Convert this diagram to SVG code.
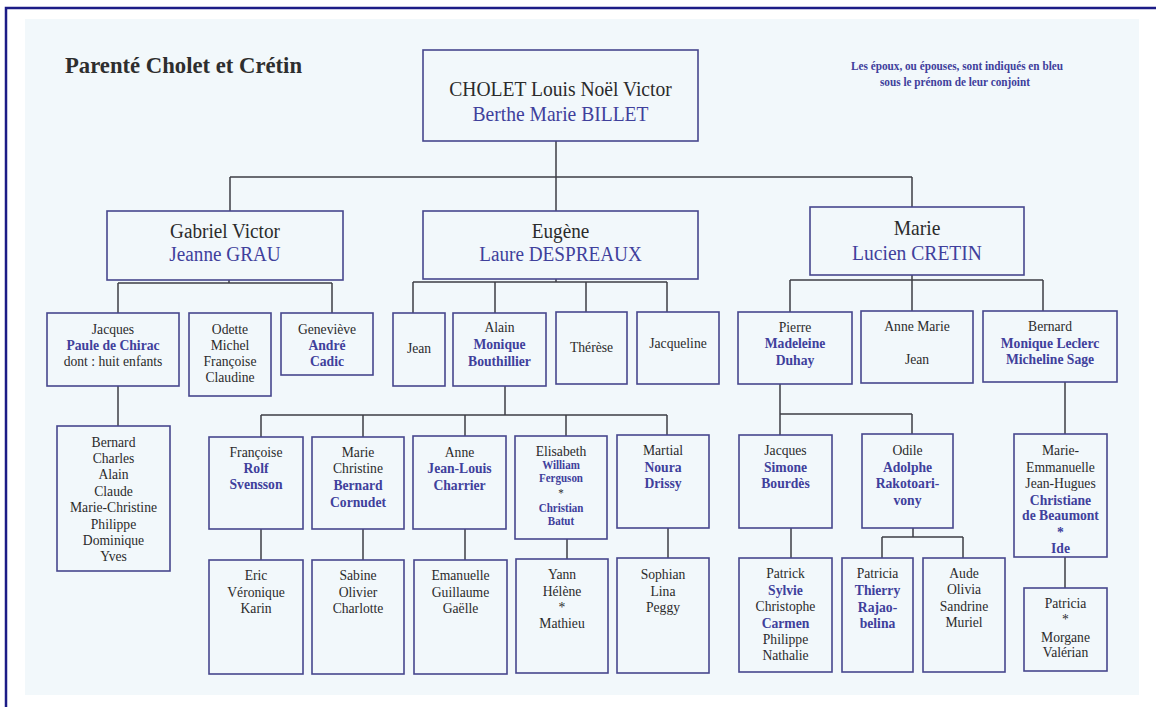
<svg xmlns="http://www.w3.org/2000/svg" width="1156" height="707" viewBox="0 0 1156 707">
<style>
.bg{fill:#ffffff}
.pale{fill:#f2f8fb}
.frame{fill:none;stroke:#1c1c86;stroke-width:2.5}
.box{fill:none;stroke:#47478e;stroke-width:1.6}
.ln{fill:none;stroke:#3e3e46;stroke-width:1.5}
.tx{font-family:"Liberation Serif","Times New Roman",serif;font-size:15.5px;fill:#2b2b2b;text-anchor:middle}
.L{font-size:22px}
.M{font-size:20px}
.b{font-weight:bold;fill:#40409c}
.s{fill:#40409c}
.xs{font-size:12.5px}
.title{font-family:"Liberation Serif","Times New Roman",serif;font-size:23px;font-weight:bold;fill:#2e2e2e}
.note{font-family:"Liberation Serif","Times New Roman",serif;font-size:12px;font-weight:bold;fill:#40409c;text-anchor:middle}
</style>
<rect class="bg" x="0" y="0" width="1156" height="707"/>
<rect class="pale" x="25" y="19" width="1114" height="676"/>
<path class="frame" d="M6,707 V8 H1156"/>
<text class="title" x="65" y="73" textLength="237" lengthAdjust="spacingAndGlyphs">Parenté Cholet et Crétin</text>
<text class="note" x="957" y="70" textLength="212" lengthAdjust="spacingAndGlyphs">Les époux, ou épouses, sont indiqués en bleu</text>
<text class="note" x="955" y="86" textLength="150" lengthAdjust="spacingAndGlyphs">sous le prénom de leur conjoint</text>

<g id="connectors">
<path class="ln" d="M556,141 V177 M230,177 H912 M230,177 V211 M556,177 V211 M912,177 V207"/>
<path class="ln" d="M229,280 V283 M118,283 H332 M118,283 V313 M332,283 V313 M118,386 V426"/>
<path class="ln" d="M556,279 V282 M413,282 H667 M413,282 V313 M495,282 V313 M586,282 V312 M667,282 V312"/>
<path class="ln" d="M505,386 V415 M261,415 H667 M261,415 V437 M363,415 V437 M465,415 V436 M566,415 V436 M667,415 V435"/>
<path class="ln" d="M261,529 V560 M363,529 V560 M465,529 V560 M567,539 V559 M668,528 V558"/>
<path class="ln" d="M912,275 V280 M790,280 H1043 M790,280 V312 M912,280 V311 M1043,280 V311"/>
<path class="ln" d="M780,384 V435 M780,414 H912 M912,414 V434"/>
<path class="ln" d="M791,528 V558 M913,528 V537 M882,537 H963 M882,537 V558 M963,537 V558"/>
<path class="ln" d="M1065,382 V434 M1065,557 V588"/>
</g>

<g id="n-root"><rect class="box" x="423" y="50" width="275" height="91"/>
<g class="tx L" transform="translate(560.5 0) scale(0.89 1)"><text y="96">CHOLET Louis Noël Victor</text><text class="s" y="121">Berthe Marie BILLET</text></g></g>

<g id="n-gabriel"><rect class="box" x="107" y="211" width="236" height="69"/>
<g class="tx M" transform="translate(225 0) scale(0.96 1)"><text y="238">Gabriel Victor</text><text class="s" y="261">Jeanne GRAU</text></g></g>

<g id="n-eugene"><rect class="box" x="423" y="211" width="275" height="68"/>
<g class="tx M" transform="translate(560.5 0) scale(0.96 1)"><text y="238">Eugène</text><text class="s" y="261">Laure DESPREAUX</text></g></g>

<g id="n-marie"><rect class="box" x="810" y="207" width="214" height="68"/>
<g class="tx L" transform="translate(917 0) scale(0.89 1)"><text y="235">Marie</text><text class="s" y="260">Lucien CRETIN</text></g></g>

<g id="n-jacques"><rect class="box" x="47" y="313" width="132" height="73"/>
<g class="tx" transform="translate(113 0) scale(0.88 1)"><text y="334">Jacques</text><text class="b" y="350">Paule de Chirac</text><text y="366">dont : huit enfants</text></g></g>

<g id="n-odette"><rect class="box" x="189" y="313" width="82" height="83"/>
<g class="tx" transform="translate(230 0) scale(0.88 1)"><text y="334">Odette</text><text y="350">Michel</text><text y="366">Françoise</text><text y="382">Claudine</text></g></g>

<g id="n-genevieve"><rect class="box" x="281" y="313" width="92" height="62"/>
<g class="tx" transform="translate(327 0) scale(0.88 1)"><text y="334">Geneviève</text><text class="b" y="350">André</text><text class="b" y="366">Cadic</text></g></g>

<g id="n-jean"><rect class="box" x="393" y="313" width="52" height="73"/>
<g class="tx" transform="translate(419 0) scale(0.88 1)"><text y="353">Jean</text></g></g>

<g id="n-alain"><rect class="box" x="453" y="313" width="93" height="73"/>
<g class="tx" transform="translate(499.5 0) scale(0.88 1)"><text y="332">Alain</text><text class="b" y="349">Monique</text><text class="b" y="366">Bouthillier</text></g></g>

<g id="n-therese"><rect class="box" x="556" y="312" width="71" height="72"/>
<g class="tx" transform="translate(591.5 0) scale(0.88 1)"><text y="352">Thérèse</text></g></g>

<g id="n-jacqueline"><rect class="box" x="637" y="312" width="82" height="72"/>
<g class="tx" transform="translate(678 0) scale(0.88 1)"><text y="348">Jacqueline</text></g></g>

<g id="n-pierre"><rect class="box" x="738" y="312" width="114" height="72"/>
<g class="tx" transform="translate(795 0) scale(0.88 1)"><text y="332">Pierre</text><text class="b" y="348">Madeleine</text><text class="b" y="365">Duhay</text></g></g>

<g id="n-annemarie"><rect class="box" x="861" y="311" width="112" height="72"/>
<g class="tx" transform="translate(917 0) scale(0.88 1)"><text y="331">Anne Marie</text><text y="364">Jean</text></g></g>

<g id="n-bernard"><rect class="box" x="983" y="311" width="134" height="71"/>
<g class="tx" transform="translate(1050 0) scale(0.88 1)"><text y="331">Bernard</text><text class="b" y="348">Monique Leclerc</text><text class="b" y="364">Micheline Sage</text></g></g>

<g id="n-jacques-enfants"><rect class="box" x="57" y="426" width="113" height="145"/>
<g class="tx" transform="translate(113.5 0) scale(0.88 1)"><text y="447">Bernard</text><text y="463">Charles</text><text y="479">Alain</text><text y="496">Claude</text><text y="512">Marie-Christine</text><text y="529">Philippe</text><text y="545">Dominique</text><text y="561">Yves</text></g></g>

<g id="n-francoise"><rect class="box" x="209" y="437" width="94" height="92"/>
<g class="tx" transform="translate(256 0) scale(0.88 1)"><text y="457">Françoise</text><text class="b" y="473">Rolf</text><text class="b" y="489">Svensson</text></g></g>

<g id="n-mariechristine"><rect class="box" x="312" y="437" width="92" height="92"/>
<g class="tx" transform="translate(358 0) scale(0.88 1)"><text y="457">Marie</text><text y="473">Christine</text><text class="b" y="490">Bernard</text><text class="b" y="507">Cornudet</text></g></g>

<g id="n-anne"><rect class="box" x="413" y="436" width="93" height="93"/>
<g class="tx" transform="translate(459.5 0) scale(0.88 1)"><text y="457">Anne</text><text class="b" y="473">Jean-Louis</text><text class="b" y="490">Charrier</text></g></g>

<g id="n-elisabeth"><rect class="box" x="515" y="436" width="92" height="103"/>
<g class="tx" transform="translate(561 0) scale(0.88 1)"><text y="456">Elisabeth</text><text class="b xs" y="469">William</text><text class="b xs" y="482">Ferguson</text><text class="xs" y="497">*</text><text class="b xs" y="512">Christian</text><text class="b xs" y="525">Batut</text></g></g>

<g id="n-martial"><rect class="box" x="617" y="435" width="92" height="93"/>
<g class="tx" transform="translate(663 0) scale(0.88 1)"><text y="455">Martial</text><text class="b" y="472">Noura</text><text class="b" y="488">Drissy</text></g></g>

<g id="n-jacques2"><rect class="box" x="739" y="435" width="93" height="93"/>
<g class="tx" transform="translate(785.5 0) scale(0.88 1)"><text y="455">Jacques</text><text class="b" y="472">Simone</text><text class="b" y="488">Bourdès</text></g></g>

<g id="n-odile"><rect class="box" x="862" y="434" width="91" height="94"/>
<g class="tx" transform="translate(907.5 0) scale(0.88 1)"><text y="455">Odile</text><text class="b" y="472">Adolphe</text><text class="b" y="488">Rakotoari-</text><text class="b" y="505">vony</text></g></g>

<g id="n-marieemmanuelle"><rect class="box" x="1014" y="434" width="93" height="123"/>
<g class="tx" transform="translate(1060.5 0) scale(0.88 1)"><text y="455">Marie-</text><text y="472">Emmanuelle</text><text y="488">Jean-Hugues</text><text class="b" y="505">Christiane</text><text class="b" y="520">de Beaumont</text><text class="b" y="537">*</text><text class="b" y="553">Ide</text></g></g>

<g id="n-eric"><rect class="box" x="209" y="560" width="94" height="114"/>
<g class="tx" transform="translate(256 0) scale(0.88 1)"><text y="580">Eric</text><text y="597">Véronique</text><text y="613">Karin</text></g></g>

<g id="n-sabine"><rect class="box" x="312" y="560" width="92" height="114"/>
<g class="tx" transform="translate(358 0) scale(0.88 1)"><text y="580">Sabine</text><text y="597">Olivier</text><text y="613">Charlotte</text></g></g>

<g id="n-emanuelle"><rect class="box" x="414" y="560" width="93" height="114"/>
<g class="tx" transform="translate(460.5 0) scale(0.88 1)"><text y="580">Emanuelle</text><text y="597">Guillaume</text><text y="613">Gaëlle</text></g></g>

<g id="n-yann"><rect class="box" x="516" y="559" width="92" height="114"/>
<g class="tx" transform="translate(562 0) scale(0.88 1)"><text y="579">Yann</text><text y="596">Hélène</text><text y="612">*</text><text y="628">Mathieu</text></g></g>

<g id="n-sophian"><rect class="box" x="617" y="558" width="92" height="115"/>
<g class="tx" transform="translate(663 0) scale(0.88 1)"><text y="579">Sophian</text><text y="596">Lina</text><text y="612">Peggy</text></g></g>

<g id="n-patrick"><rect class="box" x="739" y="558" width="93" height="114"/>
<g class="tx" transform="translate(785.5 0) scale(0.88 1)"><text y="578">Patrick</text><text class="b" y="595">Sylvie</text><text y="611">Christophe</text><text class="b" y="628">Carmen</text><text y="644">Philippe</text><text y="660">Nathalie</text></g></g>

<g id="n-patricia1"><rect class="box" x="842" y="558" width="71" height="114"/>
<g class="tx" transform="translate(877.5 0) scale(0.88 1)"><text y="578">Patricia</text><text class="b" y="595">Thierry</text><text class="b" y="612">Rajao-</text><text class="b" y="628">belina</text></g></g>

<g id="n-aude"><rect class="box" x="923" y="558" width="82" height="114"/>
<g class="tx" transform="translate(964 0) scale(0.88 1)"><text y="578">Aude</text><text y="594">Olivia</text><text y="611">Sandrine</text><text y="627">Muriel</text></g></g>

<g id="n-patricia2"><rect class="box" x="1024" y="588" width="83" height="83"/>
<g class="tx" transform="translate(1065.5 0) scale(0.88 1)"><text y="608">Patricia</text><text y="624">*</text><text y="642">Morgane</text><text y="657">Valérian</text></g></g>
</svg>
